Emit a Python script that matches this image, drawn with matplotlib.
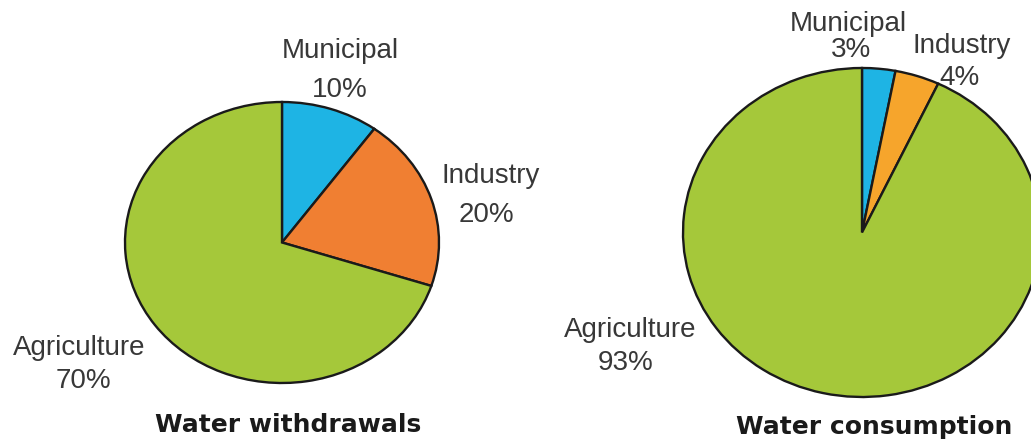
import matplotlib.pyplot as plt

# data
categories = ['Municipal', 'Industry', 'Agriculture']
withdrawals = [10, 20, 70]
consumption = [3, 4, 93]
titles = ['Water withdrawals', 'Water consumption']

W, H = 1031, 441

colors_left = ['#1EB4E4', '#F07F32', '#A5C83A']
colors_right = ['#1EB4E4', '#F6A52C', '#A5C83A']

# pie boxes in pixels (left, top, right, bottom)
boxes = [(125, 102, 439, 383), (683, 68, 1041, 397)]

# label line positions in pixels: (center x, baseline y) for name and value
label_pos = [
    [((340, 58), (340, 97)), ((491, 183), (486, 222)), ((79, 355), (83, 388))],
    [((848, 31), (851, 57)), ((962, 53), (960, 85)), ((630, 337), (626, 370))],
]
title_pos = [(288, 432), (874, 434)]

fig = plt.figure(figsize=(W / 100, H / 100), dpi=100)
fig.patch.set_facecolor('white')


def px(x, y):
    return x / W, 1 - y / H


for i, (values, cols) in enumerate([(withdrawals, colors_left), (consumption, colors_right)]):
    l, t, r, b = boxes[i]
    ax = fig.add_axes([l / W, 1 - b / H, (r - l) / W, (b - t) / H])
    ax.pie(values, colors=cols, startangle=90, counterclock=False, radius=1,
           wedgeprops=dict(edgecolor='#1a1a1a', linewidth=1.7, clip_on=False))
    ax.set_xlim(-1, 1)
    ax.set_ylim(-1, 1)
    ax.set_aspect('auto')
    ax.axis('off')

    for cat, val, (p1, p2) in zip(categories, values, label_pos[i]):
        fig.text(*px(*p1), cat, ha='center', va='baseline', fontsize=20,
                 family='Liberation Sans', color='#383838')
        fig.text(*px(*p2), f'{val}%', ha='center', va='baseline', fontsize=20,
                 family='Liberation Sans', color='#383838')

    fig.text(*px(*title_pos[i]), titles[i], ha='center', va='baseline', fontsize=18,
             family='DejaVu Sans', fontweight='bold', color='#1a1a1a')

fig.savefig('out.png', dpi=100)
